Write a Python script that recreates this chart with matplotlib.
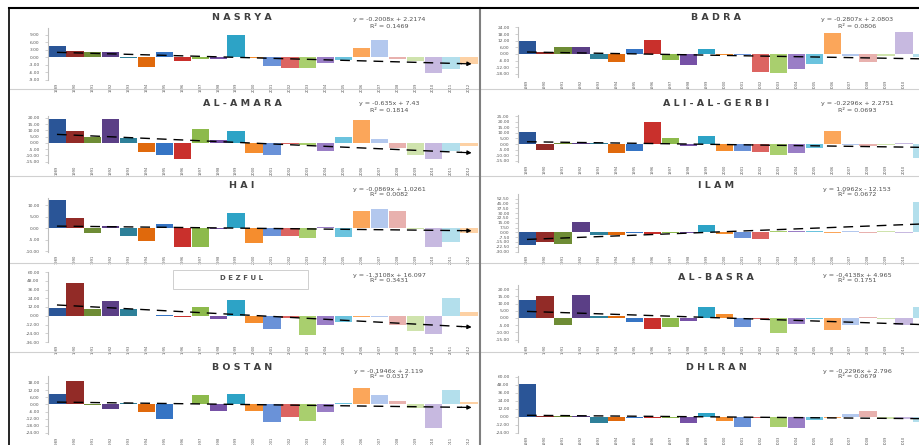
import numpy as np
import matplotlib.pyplot as plt
from matplotlib.ticker import MultipleLocator, FormatStrFormatter
from matplotlib.patches import Rectangle
from matplotlib.lines import Line2D

W, H = 920, 445

# station anomaly series, 24 seasons each
stations = ["NASRYA", "BADRA", "AL-AMARA", "ALI-AL-GERBI", "HAI",
            "ILAM", "DEZFUL", "AL-BASRA", "BOSTAN", "DHLRAN"]

nasrya = [4.4, 2.7, 2.3, 2.3, -0.4, -3.8, 2.0, -1.4, -0.8, -0.8, 8.8, -0.3,
          -3.4, -4.2, -4.2, -2.2, -1.1, 3.7, 6.8, -0.5, -1.4, -6.3, -4.5, -2.7]
badra = [12.0, 2.1, 6.0, 6.0, -4.8, -6.9, 4.2, 12.6, -5.4, -9.9, 4.2, -0.9,
         -0.9, -15.9, -17.4, -13.8, -9.0, 19.2, -1.5, -6.9, -1.5, 20.1, -2.4, -4.5]
al_amara = [19.1, 9.8, 4.5, 19.3, 4.0, -7.4, -9.3, -12.5, 11.4, 2.1, 9.8, -8.0,
            -9.3, -0.8, -1.3, -6.6, 4.5, 18.6, 3.4, -4.0, -9.3, -12.5, -6.6, -2.7]
ali_al_gerbi = [10.8, -5.1, 0.9, 1.2, 1.2, -8.1, -6.6, 19.5, 5.4, -2.1, 6.9, -6.6,
                -6.6, -7.2, -9.6, -8.1, -3.6, 11.4, -0.9, -1.5, -1.2, 0.9, -12.6, -3.0]
hai = [12.3, 4.4, -2.2, 1.0, -3.2, -5.4, 1.7, -8.0, -8.0, -0.4, 6.5, -6.5,
       -3.3, -3.3, -4.4, 0.4, -3.6, 7.3, 8.3, 7.3, -0.4, -8.0, -5.8, -2.2]
ilam = [-19.8, -14.6, -18.7, 16.6, -4.2, -4.2, -1.6, -2.6, -1.6, -1.6, 11.4, -2.6,
        -8.3, -10.4, 1.6, 2.6, 2.6, -1.6, 2.6, -1.6, 1.6, -1.6, 46.8, 5.2]
dezful = [10.5, 44.8, 9.1, 20.6, 9.1, -0.9, 1.4, -2.3, 11.9, -4.1, 21.0, -10.1,
          -18.3, -3.2, -27.0, -12.3, -8.7, -1.4, -2.3, -12.3, -21.5, -25.1, 24.2, 4.6]
al_basra = [12.7, 15.0, -4.6, 15.6, 1.6, 1.6, -2.8, -7.4, -6.2, -2.3, 7.6, 3.0,
            -6.2, -0.9, -10.1, -3.9, -0.7, -8.5, -5.1, 0.7, -0.7, -5.1, 7.6, -2.3]
bostan = [8.4, 19.6, -0.8, -4.2, 0.8, -6.4, -12.0, 0.6, 7.6, -5.6, 9.0, -5.6,
          -14.8, -10.6, -14.3, -6.4, 0.8, 13.7, 7.6, 2.5, -2.8, -19.9, 11.8, 2.2]
dhlran = [50.0, 1.5, 1.5, 1.0, -8.5, -6.0, -1.0, -1.5, -1.0, -8.5, 6.5, -6.0,
          -15.0, -1.5, -15.0, -16.0, -4.0, -1.5, 5.0, 8.5, -2.5, -3.5, -7.5, -2.5]

series = [nasrya, badra, al_amara, ali_al_gerbi, hai,
          ilam, dezful, al_basra, bostan, dhlran]

# linear trend lines (y = slope * x + intercept)
slopes = [-0.2008, -0.2807, -0.635, -0.2296, -0.0869,
          1.0962, -1.3108, -0.4138, -0.1946, -0.2296]
intercepts = [2.2174, 2.0803, 7.43, 2.2751, 1.0261,
              -12.153, 16.097, 4.965, 2.119, 2.796]
eq_text = ["y = -0.2008x + 2.2174", "y = -0.2807x + 2.0803", "y = -0.635x + 7.43",
           "y = -0.2296x + 2.2751", "y = -0.0869x + 1.0261", "y = 1.0962x - 12.153",
           "y = -1.3108x + 16.097", "y = -0.4138x + 4.965", "y = -0.1946x + 2.119",
           "y = -0.2296x + 2.796"]
r2_text = ["0.1469", "0.0806", "0.1814", "0.0693", "0.0082",
           "0.0672", "0.3431", "0.1751", "0.0317", "0.0679"]

years = ["1989", "1990", "1991", "1992", "1993", "1994", "1995", "1996",
         "1997", "1998", "1999", "2000", "2001", "2002", "2003", "2004",
         "2005", "2006", "2007", "2008", "2009", "2010", "2011", "2012"]

palette = ['#2A5597', '#922B27', '#6E8C35', '#5B3F86', '#2E8099', '#E0690C',
           '#3574C4', '#C9302C', '#8DBA4C', '#7651A6', '#2DA3C6', '#F58D2E',
           '#6A92D8', '#DC6461', '#A9CF6E', '#9A7EC6', '#6BC3DE', '#FBA65A',
           '#B3C8EE', '#E8B1AE', '#CFE3AD', '#C7B9E0', '#B3DFEC', '#FDD1A4']

# plot boxes in pixels: (top, bottom), y limits and tick step
col_x = [(48, 478), (518, 949)]
boxes = [(28, 80), (26.7, 77.3), (116.3, 163), (114.7, 162), (197.7, 251.7),
         (194.3, 251.7), (272, 342), (285.3, 342), (376, 433.7), (376, 433)]
ylims = [(-9.1, 11.8), (-21, 24.6), (-16, 21.2), (-16.2, 26.4), (-10.2, 13.3),
         (-30.2, 59.3), (-36, 60), (-16.6, 22.6), (-24.6, 23.8), (-24, 61.5)]
steps = [3, 6, 5, 5, 5, 7.5, 12, 5, 6, 12]
title_y = [17, 104, 186, 278, 367]
eq_y = [(20, 26), (104, 110), (189, 195), (275, 281), (371, 377)]


def fx(x):
    return x / W


def fy(y):
    return 1 - y / H


fig = plt.figure(figsize=(W / 100, H / 100), dpi=100)
fig.patch.set_facecolor('white')

x = np.arange(1, 25)
for i, vals in enumerate(series):
    row, col = divmod(i, 2)
    left, right = col_x[col]
    top, bottom = boxes[i]
    ax = fig.add_axes([fx(left), fy(bottom), (right - left) / W, (bottom - top) / H])
    ax.set_facecolor('none')
    ax.bar(x, vals, width=0.97, color=palette, linewidth=0, zorder=2)

    xt = np.array([1.0, 23.6])
    ax.plot(xt, slopes[i] * xt + intercepts[i], color='black', lw=1.0,
            ls=(0, (7, 5)), zorder=3)
    ax.annotate('', xy=(24.3, slopes[i] * 24.3 + intercepts[i]),
                xytext=(23.4, slopes[i] * 23.4 + intercepts[i]),
                arrowprops=dict(arrowstyle='-|>', color='black', lw=0.9,
                                mutation_scale=6), zorder=4)

    ax.set_xlim(0.5, 24.5)
    ax.set_ylim(*ylims[i])
    for s in ['top', 'right', 'bottom']:
        ax.spines[s].set_visible(False)
    ax.spines['left'].set_color('#BFBFBF')
    ax.spines['left'].set_linewidth(0.8)

    # category labels only where the bar lies inside the sheet
    px_per_bar = (right - left) / 24
    shown = [k for k in x if left + (k - 0.5) * px_per_bar < W - 6]
    ax.set_xticks(shown)
    ax.set_xticklabels([years[k - 1] for k in shown], rotation=90,
                       fontsize=2.6, color='#555555')
    ax.tick_params(axis='x', length=0, pad=2)
    ax.yaxis.set_major_locator(MultipleLocator(steps[i]))
    ax.yaxis.set_major_formatter(FormatStrFormatter('%.2f'))
    ax.tick_params(axis='y', labelsize=3.2, labelcolor='#595959', length=2,
                   width=0.5, color='#BFBFBF', pad=4)

    # chart title
    cx = 242 if col == 0 else 716
    name = stations[i]
    if name == "DEZFUL":
        fig.add_artist(Rectangle((fx(173), fy(289)), 135 / W, 19 / H,
                                 transform=fig.transFigure, fc='white',
                                 ec='#C8C8C8', lw=0.6))
        fig.text(fx(cx), fy(title_y[row]), " ".join(name), fontsize=5,
                 fontweight='bold', color='#505050', ha='center', va='center')
    else:
        fig.text(fx(cx), fy(title_y[row]), " ".join(name), fontsize=6.8,
                 fontweight='bold', color='#404040', ha='center', va='center')

    # trend equation
    ex = 389 if col == 0 else 857
    fig.text(fx(ex), fy(eq_y[row][0]), eq_text[i], fontsize=4.6,
             color='#505050', ha='center', va='center')
    fig.text(fx(ex), fy(eq_y[row][1]), "R² = " + r2_text[i], fontsize=4.6,
             color='#505050', ha='center', va='center')

# chart area borders
for yy in [89, 176, 263, 352]:
    fig.add_artist(Line2D([fx(10), 1], [fy(yy), fy(yy)], color='#D0D0D0',
                          lw=0.8, transform=fig.transFigure))
fig.add_artist(Line2D([fx(480), fx(480)], [fy(8), 0], color='#7F7F7F',
                      lw=1.5, transform=fig.transFigure))
fig.add_artist(Line2D([fx(9), fx(9)], [fy(8), 0], color='black',
                      lw=1.2, transform=fig.transFigure))
fig.add_artist(Line2D([fx(9), 1], [fy(8), fy(8)], color='black',
                      lw=1.5, transform=fig.transFigure))

fig.savefig('out.png', dpi=100)
